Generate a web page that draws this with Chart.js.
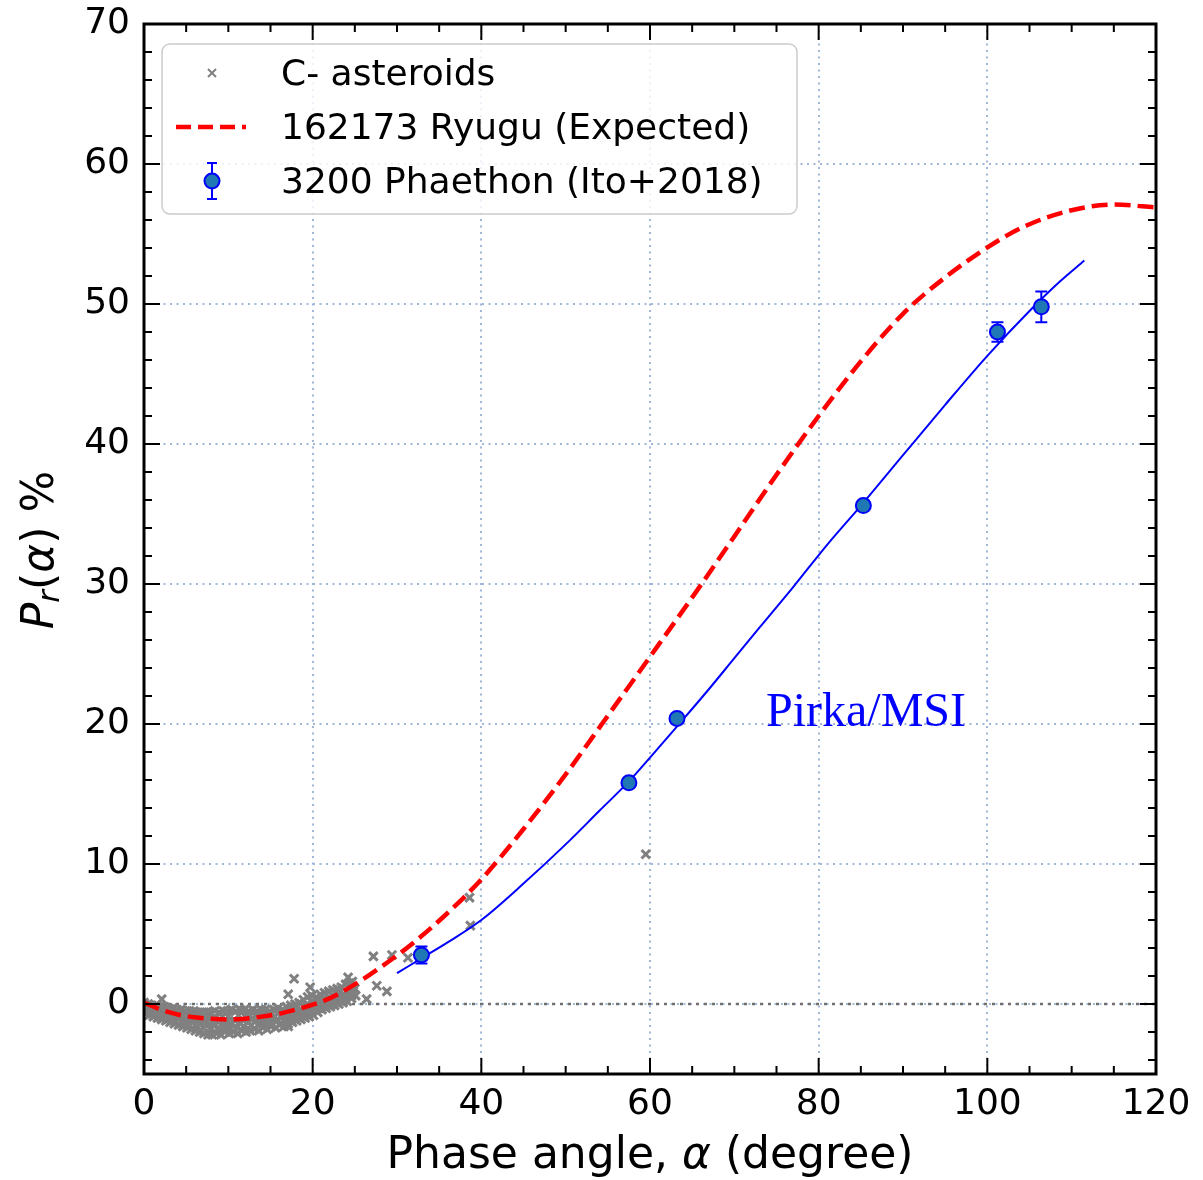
<!DOCTYPE html>
<html>
<head>
<meta charset="utf-8">
<script src="https://cdn.jsdelivr.net/npm/chart.js@4.4.0/dist/chart.umd.min.js"></script>
<style>
html, body { margin: 0; padding: 0; background: #fff; }
#wrap { width: 1203px; height: 1180px; }
</style>
</head>
<body>
<div id="wrap"><canvas id="myChart" width="1203" height="1180"></canvas></div>
<script>
const xTicks = [0, 20, 40, 60, 80, 100, 120];
const yTicks = [0, 10, 20, 30, 40, 50, 60, 70];

// C-type asteroids (gray x markers)
const cAlpha = [
    0.1, 0.3, 0.0, 0.6, 0.8, 0.5, 1.1, 1.3, 0.9, 1.6, 1.8, 1.4, 2.1, 2.3, 1.9,
    2.6, 2.8, 2.4, 3.1, 3.3, 2.9, 3.6, 3.8, 3.4, 4.1, 4.3, 3.9, 4.6, 4.8, 4.4,
    5.1, 5.3, 4.9, 5.6, 5.8, 5.4, 6.1, 6.3, 5.9, 6.6, 6.8, 6.4, 7.1, 7.3, 6.9,
    7.6, 7.8, 7.4, 8.1, 8.3, 7.9, 8.6, 8.8, 8.4, 9.1, 9.3, 8.9, 9.6, 9.8, 9.4,
    10.1, 10.3, 9.9, 10.6, 10.8, 10.4, 11.1, 11.3, 10.9, 11.6, 11.8, 11.4, 12.1, 12.3, 11.9,
    12.6, 12.8, 12.4, 13.1, 13.3, 12.9, 13.6, 13.8, 13.4, 14.1, 14.3, 13.9, 14.6, 14.8, 14.4,
    15.1, 15.3, 14.9, 15.6, 15.8, 15.4, 16.1, 16.3, 15.9, 16.6, 16.8, 16.4, 17.1, 17.3, 16.9,
    17.6, 17.8, 17.4, 18.1, 18.3, 17.9, 18.6, 18.8, 18.4, 19.1, 19.3, 18.9, 19.6, 19.8, 19.4,
    20.1, 20.3, 19.9, 20.6, 20.8, 20.4, 21.1, 21.3, 20.9, 21.6, 21.8, 21.4, 22.1, 22.3, 21.9,
    22.6, 22.8, 22.4, 23.1, 23.3, 22.9, 23.6, 23.8, 23.4, 24.1, 24.3, 23.9, 24.6, 24.8, 24.4,
    25.1, 25.0, 24.7,
    0.4, 0.2, 1.2, 1.0, 2.0, 2.2, 2.9, 3.1, 3.7, 3.9, 4.7, 4.5, 5.4, 5.6, 6.2, 6.0,
    7.0, 7.2, 7.9, 7.7, 8.7, 8.5, 9.5, 9.3, 10.2, 10.0, 11.0, 11.2, 11.8, 12.0, 12.7, 12.5,
    13.5, 13.3, 14.2, 14.4, 15.0, 15.2, 15.8, 16.0, 16.7, 16.5, 17.5, 17.3, 18.2, 18.0,
    19.0, 19.2, 19.8, 20.0, 20.7, 20.5, 21.5, 21.3, 22.2, 22.4, 23.0, 23.2, 23.8, 24.0, 24.6, 24.8,
    2.1, 17.8, 17.1, 17.1, 19.7, 26.4, 27.2, 27.6, 28.8, 29.4, 31.3, 38.6, 38.7, 59.5, 24.2
];
const cPol = [
    -0.7, -0.3, 0.1, -0.8, -0.4, 0.0, -0.9, -0.5, -0.1, -1.0, -0.6, -0.1, -1.1, -0.6, -0.2,
    -1.2, -0.7, -0.2, -1.3, -0.8, -0.3, -1.4, -0.9, -0.3, -1.5, -0.9, -0.4, -1.6, -1.0, -0.4,
    -1.7, -1.1, -0.5, -1.8, -1.1, -0.5, -1.9, -1.2, -0.5, -2.0, -1.3, -0.6, -2.1, -1.3, -0.6,
    -2.2, -1.4, -0.6, -2.2, -1.4, -0.6, -2.1, -1.3, -0.5, -2.2, -1.4, -0.6, -2.0, -1.3, -0.5,
    -2.1, -1.4, -0.5, -2.0, -1.2, -0.4, -2.1, -1.3, -0.5, -1.9, -1.2, -0.4, -2.0, -1.3, -0.4,
    -1.9, -1.1, -0.5, -1.8, -1.2, -0.4, -1.9, -1.1, -0.5, -1.7, -1.1, -0.4, -1.8, -1.0, -0.4,
    -1.6, -1.0, -0.5, -1.7, -1.1, -0.4, -1.5, -0.9, -0.3, -1.6, -1.0, -0.4, -1.4, -0.8, -0.2,
    -1.3, -0.7, -0.1, -1.2, -0.6, 0.0, -1.1, -0.5, 0.1, -1.0, -0.4, 0.3, -0.9, -0.2, 0.5,
    -0.8, -0.1, 0.6, -0.6, 0.0, 0.5, -0.4, 0.1, 0.7, -0.3, 0.2, 0.8, -0.2, 0.3, 0.9,
    -0.1, 0.4, 1.0, 0.0, 0.5, 1.1, 0.1, 0.6, 1.2, 0.2, 0.8, 1.4, 0.4, 0.9, 1.5,
    0.6, 1.1, 1.6,
    -0.5, -0.1, -0.7, -0.3, -0.9, -0.4, -1.0, -0.5, -1.2, -0.6, -1.3, -0.7, -1.5, -0.8, -1.6, -0.9,
    -1.7, -0.9, -1.8, -1.0, -1.8, -1.0, -1.7, -0.9, -1.8, -0.9, -1.7, -0.8, -1.6, -0.9, -1.5, -0.8,
    -1.5, -0.8, -1.4, -0.7, -1.3, -0.7, -1.2, -0.6, -1.3, -0.7, -1.0, -0.4, -0.9, -0.3,
    -0.7, -0.1, -0.5, 0.2, -0.3, 0.3, -0.1, 0.4, 0.0, 0.6, 0.2, 0.8, 0.3, 0.9, 0.6, 1.2,
    0.35, 1.8, 0.7, -1.6, 1.2, 0.35, 3.4, 1.3, 0.9, 3.5, 3.3, 7.6, 5.6, 10.7, 1.9
];

// 162173 Ryugu expected curve
const ryuguAlpha = [0, 2, 4, 6, 8, 10, 12, 14, 16, 18, 20, 22, 25, 28, 32, 36, 40, 45, 50, 54.3, 60, 66, 70, 75, 80, 85, 90, 95, 101.5, 105, 110, 115, 120];
const ryuguPol = [0.1, -0.4, -0.75, -0.95, -1.05, -1.1, -1.05, -0.9, -0.7, -0.4, -0.05, 0.4, 1.4, 2.6, 4.4, 6.5, 8.9, 12.5, 16.4, 20, 24.8, 29.9, 33.4, 37.8, 42.0, 45.9, 49.3, 51.9, 54.6, 55.7, 56.7, 57.1, 56.9];

// 3200 Phaethon
const phaethonAlpha = [32.9, 57.5, 63.2, 85.3, 101.2, 106.4];
const phaethonPol = [3.5, 15.8, 20.4, 35.6, 48.0, 49.8];
const phaethonErr = [0.6, 0.3, 0.3, 0.3, 0.7, 1.1];

// Phaethon fit (Pirka/MSI)
const fitAlpha = [30, 33, 36, 40, 45, 50, 54, 57.5, 60, 63.6, 67, 70, 73, 77, 81, 85.3, 90, 95, 100, 105, 108.6, 111.5];
const fitPol = [2.2, 3.3, 4.4, 6.0, 8.6, 11.4, 13.8, 15.9, 17.6, 20.1, 22.5, 24.7, 26.9, 29.8, 32.8, 35.8, 39.2, 42.8, 46.3, 49.5, 51.6, 53.1];

const toPoints = (xs, ys) => xs.map((v, i) => ({ x: v, y: ys[i] }));

const decor = {
    id: 'decor',
    beforeDatasetsDraw(chart) {
        const { ctx, chartArea: a, scales: { x, y } } = chart;
        ctx.save();
        const y0 = y.getPixelForValue(0);
        ctx.strokeStyle = '#707070';
        ctx.lineWidth = 2.5;
        ctx.setLineDash([3, 5]);
        ctx.beginPath();
        ctx.moveTo(a.left, y0);
        ctx.lineTo(a.right, y0);
        ctx.stroke();
        ctx.setLineDash([]);

        ctx.strokeStyle = '#0000ff';
        ctx.lineWidth = 2;
        phaethonAlpha.forEach((v, i) => {
            const px = x.getPixelForValue(v);
            const top = y.getPixelForValue(phaethonPol[i] + phaethonErr[i]);
            const bot = y.getPixelForValue(phaethonPol[i] - phaethonErr[i]);
            ctx.beginPath();
            ctx.moveTo(px, top); ctx.lineTo(px, bot);
            ctx.moveTo(px - 6, top); ctx.lineTo(px + 6, top);
            ctx.moveTo(px - 6, bot); ctx.lineTo(px + 6, bot);
            ctx.stroke();
        });
        ctx.restore();
    },
    afterDraw(chart) {
        const { ctx, chartArea: a, scales: { x, y } } = chart;
        ctx.save();

        // inward ticks on all four sides
        ctx.strokeStyle = '#000';
        ctx.lineWidth = 2;
        ctx.beginPath();
        for (let v = 0; v <= 120; v += 5) {
            const px = x.getPixelForValue(v);
            const len = v % 20 === 0 ? 16 : 8;
            ctx.moveTo(px, a.bottom); ctx.lineTo(px, a.bottom - len);
            ctx.moveTo(px, a.top); ctx.lineTo(px, a.top + len);
        }
        for (let v = -4; v <= 70; v += 2) {
            const py = y.getPixelForValue(v);
            const len = v % 10 === 0 ? 16 : 8;
            ctx.moveTo(a.left, py); ctx.lineTo(a.left + len, py);
            ctx.moveTo(a.right, py); ctx.lineTo(a.right - len, py);
        }
        ctx.stroke();

        ctx.lineWidth = 3;
        ctx.strokeRect(a.left, a.top, a.right - a.left, a.bottom - a.top);

        // x title
        ctx.fillStyle = '#000';
        ctx.textBaseline = 'middle';
        const xt1 = 'Phase angle, ', xt2 = 'α', xt3 = ' (degree)';
        const fN = '44px "DejaVu Sans"', fI = 'oblique 44px "DejaVu Sans"';
        ctx.font = fN;
        const w1 = ctx.measureText(xt1).width, w3 = ctx.measureText(xt3).width;
        ctx.font = fI;
        const w2 = ctx.measureText(xt2).width;
        let sx = (a.left + a.right) / 2 - (w1 + w2 + w3) / 2;
        const ty = 1157;
        ctx.textAlign = 'left';
        ctx.font = fN; ctx.fillText(xt1, sx, ty); sx += w1;
        ctx.font = fI; ctx.fillText(xt2, sx, ty); sx += w2;
        ctx.font = fN; ctx.fillText(xt3, sx, ty);

        // y title
        ctx.save();
        ctx.translate(42, 550);
        ctx.rotate(-Math.PI / 2);
        const parts = [
            { t: 'P', f: fI, dy: 0 },
            { t: 'r', f: 'oblique 31px "DejaVu Sans"', dy: 9 },
            { t: '(', f: fN, dy: 0 },
            { t: 'α', f: fI, dy: 0 },
            { t: ')', f: fN, dy: 0 },
            { t: ' %', f: fN, dy: 0 }
        ];
        let total = 0;
        parts.forEach(p => { ctx.font = p.f; p.w = ctx.measureText(p.t).width; total += p.w; });
        let px = -total / 2;
        parts.forEach(p => { ctx.font = p.f; ctx.fillText(p.t, px, p.dy); px += p.w; });
        ctx.restore();

        // Pirka/MSI label
        ctx.fillStyle = '#0000ff';
        ctx.font = '48px "Liberation Serif"';
        ctx.textAlign = 'center';
        ctx.textBaseline = 'alphabetic';
        ctx.fillText('Pirka/MSI', 866, 726);

        // legend
        const lx = 162, ly = 44, lw = 635, lh = 170;
        ctx.beginPath();
        ctx.roundRect(lx, ly, lw, lh, 8);
        ctx.fillStyle = 'rgba(255,255,255,0.8)';
        ctx.fill();
        ctx.strokeStyle = '#cccccc';
        ctx.lineWidth = 1.5;
        ctx.stroke();

        const mx = 212;
        const rows = [73, 127, 181];
        ctx.strokeStyle = '#808080';
        ctx.lineWidth = 2;
        ctx.beginPath();
        ctx.moveTo(mx - 4, rows[0] - 4); ctx.lineTo(mx + 4, rows[0] + 4);
        ctx.moveTo(mx + 4, rows[0] - 4); ctx.lineTo(mx - 4, rows[0] + 4);
        ctx.stroke();

        ctx.strokeStyle = '#ff0000';
        ctx.lineWidth = 4.5;
        ctx.setLineDash([15, 7]);
        ctx.beginPath();
        ctx.moveTo(176, rows[1]); ctx.lineTo(246, rows[1]);
        ctx.stroke();
        ctx.setLineDash([]);

        ctx.strokeStyle = '#0000ff';
        ctx.lineWidth = 2;
        ctx.beginPath();
        ctx.moveTo(mx, rows[2] - 18); ctx.lineTo(mx, rows[2] + 18);
        ctx.moveTo(mx - 5, rows[2] - 18); ctx.lineTo(mx + 5, rows[2] - 18);
        ctx.moveTo(mx - 5, rows[2] + 18); ctx.lineTo(mx + 5, rows[2] + 18);
        ctx.stroke();
        ctx.beginPath();
        ctx.arc(mx, rows[2], 7.5, 0, Math.PI * 2);
        ctx.fillStyle = '#1f77b4';
        ctx.fill();
        ctx.stroke();

        ctx.fillStyle = '#000';
        ctx.font = '36px "DejaVu Sans"';
        ctx.textAlign = 'left';
        ctx.textBaseline = 'middle';
        const labels = ['C- asteroids', '162173 Ryugu (Expected)', '3200 Phaethon (Ito+2018)'];
        labels.forEach((t, i) => ctx.fillText(t, 281, rows[i] + 3));

        ctx.restore();
    }
};

const gridStyle = {
    color: '#9fb6d8',
    lineWidth: 2,
    drawTicks: false
};

new Chart('myChart', {
    type: 'scatter',
    data: {
        datasets: [
            {
                label: '3200 Phaethon (Ito+2018)',
                data: toPoints(phaethonAlpha, phaethonPol),
                pointStyle: 'circle',
                pointRadius: 7.5,
                backgroundColor: '#1f77b4',
                borderColor: '#0000ff',
                borderWidth: 2,
                order: 0
            },
            {
                label: 'fit',
                data: toPoints(fitAlpha, fitPol),
                showLine: true,
                pointRadius: 0,
                borderColor: '#0000ff',
                borderWidth: 2,
                cubicInterpolationMode: 'monotone',
                order: 1
            },
            {
                label: '162173 Ryugu (Expected)',
                data: toPoints(ryuguAlpha, ryuguPol),
                showLine: true,
                pointRadius: 0,
                borderColor: '#ff0000',
                borderWidth: 4.5,
                borderDash: [16, 7],
                cubicInterpolationMode: 'monotone',
                order: 2
            },
            {
                label: 'C- asteroids',
                data: toPoints(cAlpha, cPol),
                pointStyle: 'crossRot',
                pointRadius: 6,
                borderColor: '#808080',
                borderWidth: 3,
                order: 3
            }
        ]
    },
    options: {
        responsive: false,
        devicePixelRatio: 1,
        animation: false,
        layout: { padding: { top: 24, right: 47, left: 0, bottom: 0 } },
        plugins: {
            legend: { display: false },
            tooltip: { enabled: false }
        },
        scales: {
            x: {
                type: 'linear',
                min: 0,
                max: 120,
                afterFit: s => { s.height = 106; s.paddingLeft = 0; s.paddingRight = 0; },
                afterBuildTicks: s => { s.ticks = xTicks.map(v => ({ value: v })); },
                grid: gridStyle,
                border: { display: false, dash: [2, 4.5] },
                ticks: {
                    padding: 9,
                    color: '#000',
                    font: { family: 'DejaVu Sans', size: 36 },
                    maxRotation: 0
                }
            },
            y: {
                type: 'linear',
                min: -5,
                max: 70,
                afterFit: s => { s.width = 144; s.paddingTop = 0; s.paddingBottom = 0; },
                afterBuildTicks: s => { s.ticks = yTicks.map(v => ({ value: v })); },
                grid: gridStyle,
                border: { display: false, dash: [2, 4.5] },
                ticks: {
                    padding: 14,
                    color: '#000',
                    font: { family: 'DejaVu Sans', size: 36 }
                }
            }
        }
    },
    plugins: [decor]
});
</script>
</body>
</html>
